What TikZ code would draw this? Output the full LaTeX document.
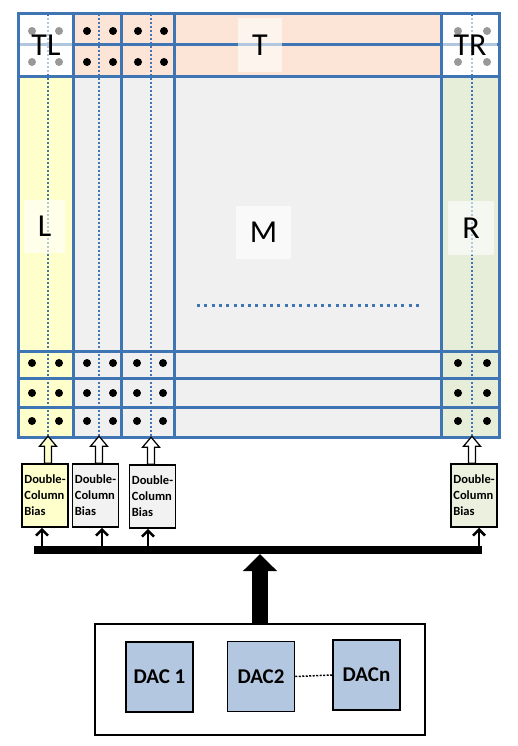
\documentclass[tikz,border=0pt]{standalone}
\usepackage{fontspec}
\setmainfont{Carlito}
\usetikzlibrary{arrows.meta}
\definecolor{gridblue}{RGB}{62,117,178}
\definecolor{peach}{RGB}{252,228,214}
\definecolor{lyellow}{RGB}{255,255,204}
\definecolor{lgrey}{RGB}{240,240,240}
\definecolor{lgreen}{RGB}{230,238,218}
\definecolor{biasgrey}{RGB}{242,242,242}
\definecolor{biasgreen}{RGB}{235,241,222}
\definecolor{dacblue}{RGB}{180,199,225}

\begin{document}
\begin{tikzpicture}[x=1pt,y=-1pt]
          \useasboundingbox (0,0) rectangle (518,746);
          \tikzset{cellline/.style={gridblue,line width=3pt},
            coldots/.style={gridblue,line width=2pt,dash pattern=on 2pt off 2pt},
            lbl/.style={fill=white,fill opacity=0.6,text opacity=1,inner sep=0pt,
              font=\fontsize{32}{32}\selectfont},
            bias/.style={draw,line width=1.5pt,minimum width=46pt,minimum height=63pt,
              inner xsep=2pt,align=left,font=\bfseries\fontsize{12.5}{16}\selectfont},
            dac/.style={draw,line width=1.5pt,fill=dacblue,minimum width=67pt,
              minimum height=70pt,font=\bfseries\fontsize{21}{21}\selectfont},
            feed/.style={line width=2.5pt,-{Straight Barb[length=6pt,width=12pt]}},
            hollow/.pic={\path[pic actions] (-3.5,0) -- (-3.5,-17) -- (-8.5,-17)
              -- (0,-27) -- (8.5,-17) -- (3.5,-17) -- (3.5,0) -- cycle;}}

          % array regions
          \fill[white] (18,14) rectangle (73,77);
          \fill[peach] (73,14) rectangle (441,77);
          \fill[white] (441,14) rectangle (499,77);
          \fill[lyellow] (18,77) rectangle (73,437);
          \fill[lgrey] (73,77) rectangle (441,437);
          \fill[lgreen] (441,77) rectangle (499,437);
          \foreach \y in {45,77,351,378,407}
            \draw[cellline] (18,\y) -- (499,\y);
          \foreach \x in {73,121,174,441}
            \draw[cellline] (\x,14) -- (\x,437);
          \draw[cellline] (18,14) rectangle (499,437);

          % column lines
          \coordinate (c1) at (48,437);
          \coordinate (c2) at (99,437);
          \coordinate (c3) at (151,437);
          \coordinate (c4) at (472,437);
          \foreach \c in {c1,c2,c3,c4}
            \draw[coldots] (\c |- 0,14) -- (\c);
          \draw[gridblue,line width=3pt,dash pattern=on 3pt off 4.3pt] (197,305) -- (423,305);

          % pixels
          \foreach \x in {32,59,87,113,138,164,458,487}
            \foreach \y in {31,62}
              \fill (\x,\y) circle (4pt);
          \foreach \x in {32,59,87,113,137,163,458,487}
            \foreach \y in {363,393,421}
              \fill (\x,\y) circle (4pt);

          \node[lbl,minimum width=52pt,minimum height=54pt] (tl) at (46,45) {TL};
          \node[lbl,minimum width=44pt,minimum height=54pt] (t) at (260,45) {T};
          \node[lbl,minimum width=54pt,minimum height=54pt] (tr) at (470,45) {TR};
          \node[lbl,minimum width=41pt,minimum height=53pt] (l) at (44.5,226.5) {L};
          \node[lbl,minimum width=55pt,minimum height=53pt] (m) at (263.5,232.5) {M};
          \node[lbl,minimum width=46pt,minimum height=54pt] (r) at (471,228) {R};

          % bias blocks
          \node[bias,fill=lyellow] (b1) at (45,495.5) {Double-\\Column\\Bias};
          \node[bias,fill=biasgrey] (b2) at (95.5,495.5) {Double-\\Column\\Bias};
          \node[bias,fill=biasgrey] (b3) at (152.5,496.5) {Double-\\Column\\Bias};
          \node[bias,fill=biasgreen] (b4) at (474,495.5) {Double-\\Column\\Bias};
          \pic[draw,line width=1.2pt,fill=lyellow] at (b1.north -| c1) {hollow};
          \pic[draw,line width=1.2pt,fill=white] at (b2.north -| c2) {hollow};
          \pic[draw,line width=1.2pt,fill=white] at (b3.north -| c3) {hollow};
          \pic[draw,line width=1.2pt,fill=white] at (b4.north -| c4) {hollow};

          % bus
          \coordinate (k1) at (42,550);
          \coordinate (k2) at (102,550);
          \coordinate (k3) at (148,550);
          \coordinate (k4) at (479,550);
          \draw[feed] (k1) -- (k1 |- b1.south);
          \draw[feed] (k2) -- (k2 |- b2.south);
          \draw[feed] (k3) -- (k3 |- b3.south);
          \draw[feed] (k4) -- (k4 |- b4.south);
          \draw[line width=8pt] (34,550) -- (482,550);

          % DACs
          \node[draw,line width=1.5pt,fill=white,minimum width=330pt,minimum height=111pt] (dacs) at (260,679.5) {};
          \node[dac] (d1) at (159.5,677) {DAC 1};
          \node[dac] (d2) at (261,676.5) {DAC2};
          \node[dac] (dn) at (366.5,675) {DACn};
          \draw[line width=1.5pt,dash pattern=on 2pt off 1.5pt] (d2.east) -- (dn.west);
          \coordinate (busm) at (260,554);
          \draw[line width=16pt,-{Triangle[length=17pt,width=33pt]}] (dacs.north -| busm) -- (busm);
\end{tikzpicture}
\end{document}
